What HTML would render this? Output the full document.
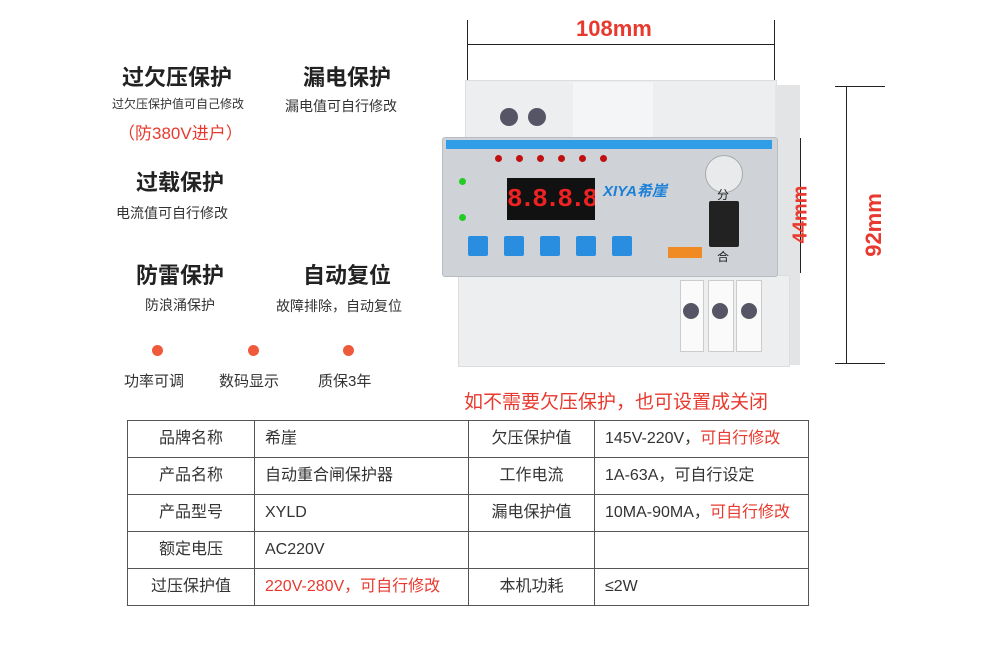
<!DOCTYPE html>
<html><head><meta charset="utf-8"><style>
body{margin:0;width:990px;height:652px;background:#fff;position:relative;overflow:hidden;font-family:"Liberation Sans","Noto Sans CJK SC",sans-serif;color:#222}
.a{position:absolute}
.t{position:absolute;text-align:center;white-space:nowrap}
.h{font-size:22px;font-weight:bold;color:#222}
.s{font-size:13px;color:#333}
table{position:absolute;left:127px;top:420px;border-collapse:collapse;font-size:16px}
td{border:1.5px solid #555;height:36px;padding:0 10px;color:#333;line-height:20px;vertical-align:middle}
.c{text-align:center}
.r{color:#e8392e}
.dot{position:absolute;width:11px;height:11px;border-radius:50%;background:#f05a3c}
.btn{position:absolute;width:20px;height:20px;background:#2a8ee0;border-radius:2px;top:236px}
.led{position:absolute;width:7px;height:7px;border-radius:50%;background:#c01010;top:155px}
</style></head><body>
<div class="t h" style="left:122px;top:60px">过欠压保护</div>
<div class="t s" style="left:112px;top:95px;font-size:12px">过欠压保护值可自己修改</div>
<div class="t r" style="left:118px;top:119px;font-size:17px">（防380V进户）</div>
<div class="t h" style="left:303px;top:60px">漏电保护</div>
<div class="t s" style="left:285px;top:96px;font-size:14px">漏电值可自行修改</div>
<div class="t h" style="left:136px;top:165px">过载保护</div>
<div class="t s" style="left:116px;top:203px;font-size:14px">电流值可自行修改</div>
<div class="t h" style="left:136px;top:258px">防雷保护</div>
<div class="t h" style="left:303px;top:258px">自动复位</div>
<div class="t s" style="left:145px;top:295px;font-size:14px">防浪涌保护</div>
<div class="t s" style="left:276px;top:296px;font-size:14px">故障排除，自动复位</div>
<div class="dot" style="left:152px;top:345px"></div>
<div class="dot" style="left:248px;top:345px"></div>
<div class="dot" style="left:343px;top:345px"></div>
<div class="t s" style="left:124px;top:370px;font-size:15px">功率可调</div>
<div class="t s" style="left:219px;top:370px;font-size:15px">数码显示</div>
<div class="t s" style="left:318px;top:370px;font-size:15px">质保3年</div>

<!-- dimensions -->
<div class="a" style="left:467px;top:20px;width:1px;height:60px;background:#222"></div>
<div class="a" style="left:774px;top:20px;width:1px;height:60px;background:#222"></div>
<div class="a" style="left:467px;top:44px;width:308px;height:1px;background:#222"></div>
<div class="t r" style="left:576px;top:16px;font-size:22px;font-weight:bold">108mm</div>
<div class="a" style="left:846px;top:86px;width:1px;height:278px;background:#222"></div>
<div class="a" style="left:835px;top:86px;width:50px;height:1px;background:#222"></div>
<div class="a" style="left:835px;top:363px;width:50px;height:1px;background:#222"></div>
<div class="t r" style="left:842px;top:212px;font-size:22px;font-weight:bold;transform:rotate(-90deg)">92mm</div>

<!-- device -->
<div class="a" style="left:465px;top:80px;width:310px;height:60px;background:#eceef0;border:1px solid #ddd"></div>
<div class="a" style="left:573px;top:82px;width:80px;height:56px;background:#f4f5f6"></div>
<div class="a" style="left:500px;top:108px;width:18px;height:18px;border-radius:50%;background:#556"></div>
<div class="a" style="left:528px;top:108px;width:18px;height:18px;border-radius:50%;background:#556"></div>
<div class="a" style="left:775px;top:85px;width:25px;height:280px;background:#e2e4e6"></div>
<div class="a" style="left:458px;top:275px;width:330px;height:90px;background:#eceef0;border:1px solid #ddd"></div>
<div class="a" style="left:680px;top:280px;width:22px;height:70px;background:#fafafa;border:1px solid #ccc"></div>
<div class="a" style="left:708px;top:280px;width:24px;height:70px;background:#fafafa;border:1px solid #ccc"></div>
<div class="a" style="left:736px;top:280px;width:24px;height:70px;background:#fafafa;border:1px solid #ccc"></div>
<div class="a" style="left:683px;top:303px;width:16px;height:16px;border-radius:50%;background:#556"></div>
<div class="a" style="left:712px;top:303px;width:16px;height:16px;border-radius:50%;background:#556"></div>
<div class="a" style="left:741px;top:303px;width:16px;height:16px;border-radius:50%;background:#556"></div>
<div class="a" style="left:442px;top:137px;width:334px;height:138px;background:#cfd3d8;border:1px solid #b8bcc2;border-radius:3px"></div>
<div class="a" style="left:446px;top:140px;width:326px;height:9px;background:#2f9ee6"></div>
<div class="led" style="left:495px"></div><div class="led" style="left:516px"></div><div class="led" style="left:537px"></div><div class="led" style="left:558px"></div><div class="led" style="left:579px"></div><div class="led" style="left:600px"></div>
<div class="a" style="left:459px;top:178px;width:7px;height:7px;border-radius:50%;background:#2c2"></div>
<div class="a" style="left:459px;top:214px;width:7px;height:7px;border-radius:50%;background:#2c2"></div>
<div class="a" style="left:507px;top:178px;width:88px;height:42px;background:#111;color:#e22;font-size:26px;font-family:'Liberation Mono',monospace;line-height:42px;text-align:center;font-weight:bold;overflow:hidden;letter-spacing:-3px">8.8.8.8.</div>
<div class="t" style="left:603px;top:180px;font-size:15px;font-weight:bold;font-style:italic;color:#1a7fd8">XIYA希崖</div>
<div class="btn" style="left:468px"></div><div class="btn" style="left:504px"></div><div class="btn" style="left:540px"></div><div class="btn" style="left:576px"></div><div class="btn" style="left:612px"></div>
<div class="a" style="left:668px;top:247px;width:34px;height:11px;background:#f08a22"></div>
<div class="a" style="left:705px;top:155px;width:36px;height:36px;border-radius:50%;background:#e8eaec;border:1px solid #aaa"></div>
<div class="a" style="left:709px;top:201px;width:30px;height:46px;background:#222;border-radius:2px"></div>
<div class="t" style="left:717px;top:186px;font-size:12px">分</div>
<div class="t" style="left:717px;top:248px;font-size:12px">合</div>

<div class="a" style="left:800px;top:138px;width:1px;height:135px;background:#222"></div>
<div class="t r" style="left:772px;top:203px;font-size:20px;font-weight:bold;transform:rotate(-90deg);z-index:5">44mm</div>

<div class="t r" style="left:464px;top:387px;font-size:19px">如不需要欠压保护，也可设置成关闭</div>

<table>
<tr><td class="c" style="width:106px">品牌名称</td><td style="width:193px">希崖</td><td class="c" style="width:105px">欠压保护值</td><td style="width:193px">145V-220V，<span class="r">可自行修改</span></td></tr>
<tr><td class="c">产品名称</td><td>自动重合闸保护器</td><td class="c">工作电流</td><td>1A-63A，可自行设定</td></tr>
<tr><td class="c">产品型号</td><td>XYLD</td><td class="c">漏电保护值</td><td>10MA-90MA，<span class="r">可自行修改</span></td></tr>
<tr><td class="c">额定电压</td><td>AC220V</td><td></td><td></td></tr>
<tr><td class="c">过压保护值</td><td class="r">220V-280V，可自行修改</td><td class="c">本机功耗</td><td>≤2W</td></tr>
</table>
</body></html>
